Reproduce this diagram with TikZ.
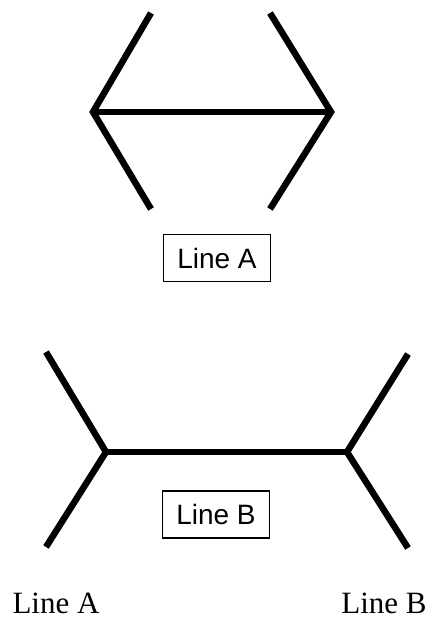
\documentclass[tikz,border=0pt]{standalone}
\usepackage{fontspec}
\setmainfont{Liberation Serif}
\newfontfamily\arialfont{Liberation Sans}
\begin{document}
\begin{tikzpicture}[x=1pt,y=-1pt,
  figline/.style={line width=6.5pt, line join=miter, line cap=butt},
  boxlabel/.style={draw, line width=1.1pt, minimum width=107pt, minimum height=47pt, inner sep=0pt, font=\arialfont\fontsize{28}{30}\selectfont},
  bottomlabel/.style={inner sep=0pt, anchor=base, font=\fontsize{31}{33}\selectfont}]
\useasboundingbox (0,0) rectangle (429,619);
% Figure A (arrowheads pointing outwards)
\coordinate (a1) at (151,13);
\coordinate (al) at (93,112);
\coordinate (a2) at (151,209);
\coordinate (a3) at (270,13);
\coordinate (ar) at (331,112);
\coordinate (a4) at (270,209);
\draw[figline] (a1) -- (al) -- (a2);
\draw[figline] (a3) -- (ar) -- (a4);
\draw[figline] (al) -- (ar);
\node[boxlabel] (la) at (217,258) {Line A};
% Figure B (fins pointing outwards)
\coordinate (b1) at (46,352);
\coordinate (bl) at (106,452);
\coordinate (b2) at (46,547);
\coordinate (b3) at (408,354);
\coordinate (br) at (347,452);
\coordinate (b4) at (408,548);
\draw[figline] (b1) -- (bl) -- (b2);
\draw[figline] (b3) -- (br) -- (b4);
\draw[figline] (bl) -- (br);
\node[boxlabel] (lb) at (216,514.5) {Line B};
% bottom labels
\node[bottomlabel] (ta) at (56,613) {Line A};
\node[bottomlabel] (tb) at (384,613) {Line B};
\end{tikzpicture}
\end{document}
